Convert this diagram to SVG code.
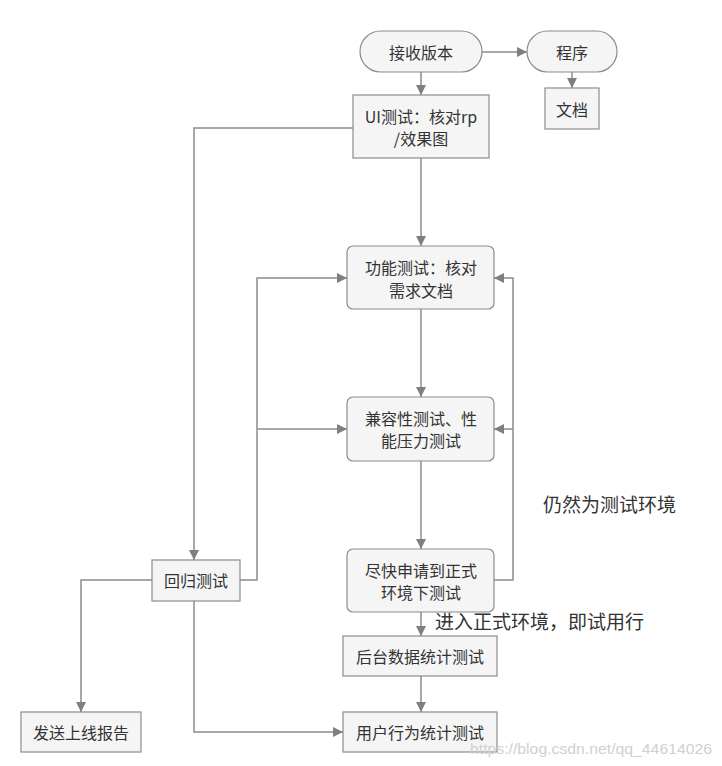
<svg xmlns="http://www.w3.org/2000/svg" width="722" height="766" viewBox="0 0 722 766">
<defs>
<marker id="arr" viewBox="0 0 10 10" refX="10" refY="5" markerWidth="10" markerHeight="10" markerUnits="userSpaceOnUse" orient="auto">
<path d="M0,0 L10,5 L0,10 z" fill="#7f7f7f"/>
</marker>
<style>
.box{fill:#f5f5f5;stroke:#8c8c8c;stroke-width:1.2}
.t{font-family:"Noto Sans CJK SC","Noto Sans",sans-serif;font-size:16px;fill:#333;text-anchor:middle;dominant-baseline:central}
.lbl{font-family:"Noto Sans CJK SC","Noto Sans",sans-serif;font-size:19px;fill:#333}
.c{fill:none;stroke:#8c8c8c;stroke-width:1.5}
</style>
</defs>
<rect width="722" height="766" fill="#fff"/>
<g id="connectors">
<path class="c" d="M482,52 H527" marker-end="url(#arr)"/>
<path class="c" d="M572,72 V88" marker-end="url(#arr)"/>
<path class="c" d="M421,72 V95" marker-end="url(#arr)"/>
<path class="c" d="M421,158 V246" marker-end="url(#arr)"/>
<path class="c" d="M421,309 V397" marker-end="url(#arr)"/>
<path class="c" d="M421,461 V549" marker-end="url(#arr)"/>
<path class="c" d="M421,612 V636" marker-end="url(#arr)"/>
<path class="c" d="M421,676 V712" marker-end="url(#arr)"/>
<path class="c" d="M353,128 H194 V560" marker-end="url(#arr)"/>
<path class="c" d="M240,580 H257 V278 H347" marker-end="url(#arr)"/>
<path class="c" d="M257,429 H347" marker-end="url(#arr)"/>
<path class="c" d="M494,580 H513 V278 H494" marker-end="url(#arr)"/>
<path class="c" d="M513,429 H494" marker-end="url(#arr)"/>
<path class="c" d="M152,580 H81 V712" marker-end="url(#arr)"/>
<path class="c" d="M194,601 V732 H343" marker-end="url(#arr)"/>
</g>
<g id="n_receive"><rect class="box" x="360" y="31" width="122" height="41" rx="20.5"/><text class="t" x="421" y="52">接收版本</text></g>
<g id="n_program"><rect class="box" x="527" y="31" width="90" height="41" rx="20.5"/><text class="t" x="572" y="52">程序</text></g>
<g id="n_doc"><rect class="box" x="545" y="88" width="54" height="41"/><text class="t" x="572" y="109">文档</text></g>
<g id="n_ui"><rect class="box" x="353" y="95" width="136" height="63"/><text class="t" x="421" y="116">UI测试：核对rp</text><text class="t" x="421" y="138">/效果图</text></g>
<g id="n_func"><rect class="box" x="347" y="246" width="147" height="63" rx="6"/><text class="t" x="421" y="267">功能测试：核对</text><text class="t" x="421" y="290">需求文档</text></g>
<g id="n_compat"><rect class="box" x="347" y="397" width="147" height="64" rx="6"/><text class="t" x="421" y="418">兼容性测试、性</text><text class="t" x="421" y="440">能压力测试</text></g>
<g id="n_formal"><rect class="box" x="347" y="549" width="147" height="63" rx="6"/><text class="t" x="421" y="570">尽快申请到正式</text><text class="t" x="421" y="592">环境下测试</text></g>
<g id="n_regress"><rect class="box" x="152" y="560" width="88" height="41"/><text class="t" x="196" y="580">回归测试</text></g>
<g id="n_backend"><rect class="box" x="343" y="636" width="154" height="40"/><text class="t" x="420" y="656">后台数据统计测试</text></g>
<g id="n_user"><rect class="box" x="343" y="712" width="154" height="40"/><text class="t" x="420" y="732">用户行为统计测试</text></g>
<g id="n_report"><rect class="box" x="21" y="712" width="120" height="40"/><text class="t" x="81" y="732">发送上线报告</text></g>
<text class="lbl" x="543" y="512">仍然为测试环境</text>
<text class="lbl" x="435" y="629">进入正式环境，即试用行</text>
<text x="470" y="754" font-family="Liberation Sans, sans-serif" font-size="15" fill="#d0d0d0" textLength="242" lengthAdjust="spacingAndGlyphs">https://blog.csdn.net/qq_44614026</text>
</svg>
